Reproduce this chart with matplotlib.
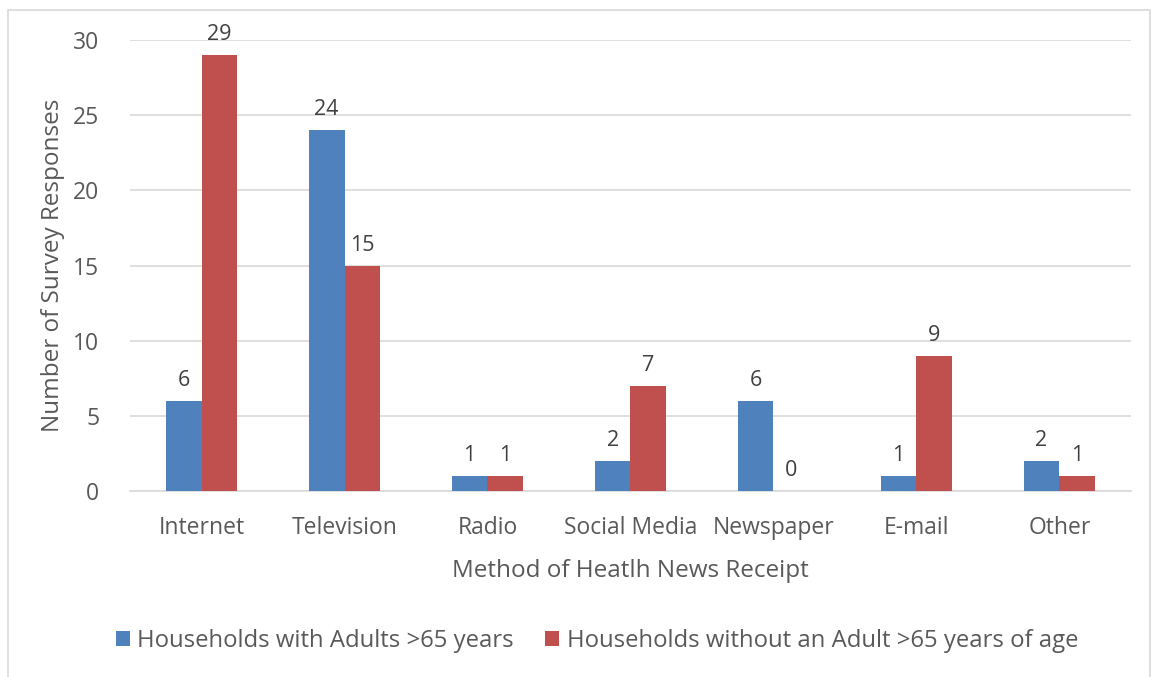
import matplotlib.pyplot as plt
import numpy as np
from matplotlib.patches import Rectangle

methods = ["Internet", "Television", "Radio", "Social Media", "Newspaper", "E-mail", "Other"]
with_65 = [6, 24, 1, 2, 6, 1, 2]
without_65 = [29, 15, 1, 7, 0, 9, 1]

blue = "#4F81BD"
red = "#C0504D"
txt = "#595959"

plt.rcParams['font.family'] = ['Open Sans', 'DejaVu Sans']

fig = plt.figure(figsize=(11.57, 6.77), dpi=100)
ax = fig.add_axes([0.1124, 0.2747, 0.865, 0.6662])

# light border round the whole chart (bottom edge runs off the picture)
fig.patches.append(Rectangle((8 / 1157, -0.05), 1142 / 1157, 1.05 - 10 / 677, transform=fig.transFigure,
                             fill=False, edgecolor="#D9D9D9", linewidth=1.2))

x = np.arange(len(methods))
w = 0.25
b1 = ax.bar(x - w / 2, with_65, w, color=blue, label="Households with Adults >65 years", zorder=3)
b2 = ax.bar(x + w / 2, without_65, w, color=red, label="Households without an Adult >65 years of age", zorder=3)

for bars in (b1, b2):
    for r in bars:
        ax.annotate(str(int(r.get_height())), (r.get_x() + r.get_width() / 2, r.get_height()),
                    xytext=(0, 7), textcoords="offset points", ha="center", va="bottom",
                    fontsize=15.5, color="#404040", clip_on=False)

ax.set_xlim(-0.5, len(methods) - 0.5)
ax.set_ylim(0, 30)
ax.set_yticks(range(0, 31, 5))
ax.set_xticks(x)
ax.set_xticklabels(methods)
ax.tick_params(axis="both", length=0, labelsize=16.5, colors=txt)
ax.tick_params(axis="x", pad=18)
ax.tick_params(axis="y", pad=22)
ax.grid(axis="y", color="#D9D9D9", linewidth=1.2, zorder=0)
for s in ["top", "right", "left"]:
    ax.spines[s].set_visible(False)
ax.spines["bottom"].set_color("#D9D9D9")
ax.spines["bottom"].set_linewidth(1.2)

ax.set_xlabel("Method of Heatlh News Receipt", fontsize=17.5, color=txt, labelpad=14)
ax.set_ylabel("Number of Survey Responses", fontsize=17.5, color=txt, labelpad=6)

fig.legend(loc="center", bbox_to_anchor=(0.516, 0.053), ncol=2, frameon=False,
           fontsize=17.2, labelcolor=txt, handlelength=0.6, handleheight=0.6,
           handletextpad=0.3, columnspacing=1.3)

fig.savefig("out.png", dpi=100)
